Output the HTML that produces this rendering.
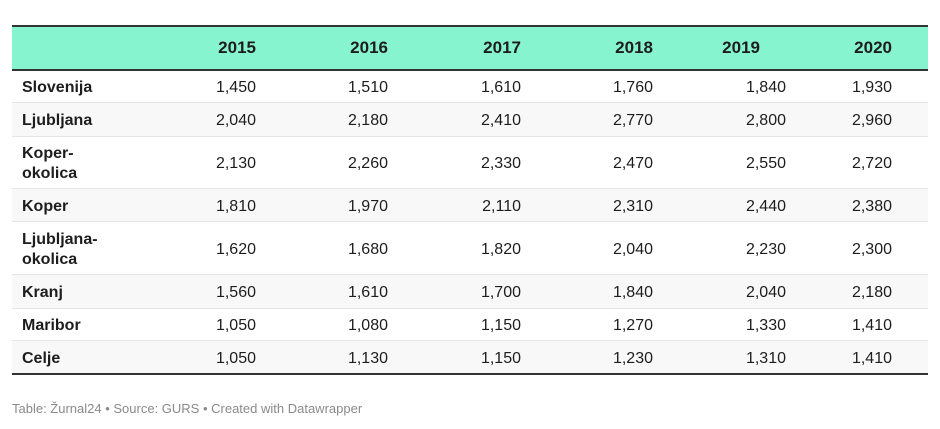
<!DOCTYPE html>
<html><head><meta charset="utf-8"><style>
*{margin:0;padding:0;box-sizing:border-box}
body{width:940px;height:429px;background:#fff;position:relative;font-family:"Liberation Sans",Arial,sans-serif;color:#1d1d1d;overflow:hidden}
.a{position:absolute}
.hd{left:12px;top:25px;width:916px;height:46px;background:#86f4cf;border-top:2px solid #333;border-bottom:2px solid #333}
.row{position:absolute;left:12px;width:916px;border-bottom:1px solid #e6e6e6}
.g{background:#f8f8f8}
.h{position:absolute;top:38px;font-weight:bold;font-size:17px;text-align:right;width:80px}
.n{position:absolute;font-size:16px;text-align:right;width:80px;margin-top:1px}
.l{position:absolute;left:22px;font-weight:bold;font-size:16px;line-height:20px;margin-top:1px}
.ft{left:12px;top:401px;font-size:13px;color:#8a8a8a}
</style></head><body>
<div class="a hd"></div>
<div class="row" style="top:71px;height:32px"></div>
<div class="row g" style="top:103px;height:34px"></div>
<div class="row" style="top:137px;height:52px"></div>
<div class="row g" style="top:189px;height:33px"></div>
<div class="row" style="top:222px;height:53px"></div>
<div class="row g" style="top:275px;height:34px"></div>
<div class="row" style="top:309px;height:32px"></div>
<div class="row g" style="top:341px;height:34px;border-bottom:2px solid #333"></div>
<div class="h" style="left:176px">2015</div>
<div class="h" style="left:308px">2016</div>
<div class="h" style="left:441px">2017</div>
<div class="h" style="left:573px">2018</div>
<div class="h" style="left:680px">2019</div>
<div class="h" style="left:812px">2020</div>
<div class="l" style="top:77px">Slovenija</div>
<div class="l" style="top:110px">Ljubljana</div>
<div class="l" style="top:143px">Koper-<br>okolica</div>
<div class="l" style="top:196px">Koper</div>
<div class="l" style="top:229px">Ljubljana-<br>okolica</div>
<div class="l" style="top:282px">Kranj</div>
<div class="l" style="top:315px">Maribor</div>
<div class="l" style="top:348px">Celje</div>
<div class="a ft">Table: Žurnal24 • Source: GURS • Created with Datawrapper</div>
<div class="n" style="top:78px;left:176px">1,450</div><div class="n" style="top:78px;left:308px">1,510</div><div class="n" style="top:78px;left:441px">1,610</div><div class="n" style="top:78px;left:573px">1,760</div><div class="n" style="top:78px;left:706px">1,840</div><div class="n" style="top:78px;left:812px">1,930</div>
<div class="n" style="top:111px;left:176px">2,040</div><div class="n" style="top:111px;left:308px">2,180</div><div class="n" style="top:111px;left:441px">2,410</div><div class="n" style="top:111px;left:573px">2,770</div><div class="n" style="top:111px;left:706px">2,800</div><div class="n" style="top:111px;left:812px">2,960</div>
<div class="n" style="top:154px;left:176px">2,130</div><div class="n" style="top:154px;left:308px">2,260</div><div class="n" style="top:154px;left:441px">2,330</div><div class="n" style="top:154px;left:573px">2,470</div><div class="n" style="top:154px;left:706px">2,550</div><div class="n" style="top:154px;left:812px">2,720</div>
<div class="n" style="top:197px;left:176px">1,810</div><div class="n" style="top:197px;left:308px">1,970</div><div class="n" style="top:197px;left:441px">2,110</div><div class="n" style="top:197px;left:573px">2,310</div><div class="n" style="top:197px;left:706px">2,440</div><div class="n" style="top:197px;left:812px">2,380</div>
<div class="n" style="top:240px;left:176px">1,620</div><div class="n" style="top:240px;left:308px">1,680</div><div class="n" style="top:240px;left:441px">1,820</div><div class="n" style="top:240px;left:573px">2,040</div><div class="n" style="top:240px;left:706px">2,230</div><div class="n" style="top:240px;left:812px">2,300</div>
<div class="n" style="top:283px;left:176px">1,560</div><div class="n" style="top:283px;left:308px">1,610</div><div class="n" style="top:283px;left:441px">1,700</div><div class="n" style="top:283px;left:573px">1,840</div><div class="n" style="top:283px;left:706px">2,040</div><div class="n" style="top:283px;left:812px">2,180</div>
<div class="n" style="top:316px;left:176px">1,050</div><div class="n" style="top:316px;left:308px">1,080</div><div class="n" style="top:316px;left:441px">1,150</div><div class="n" style="top:316px;left:573px">1,270</div><div class="n" style="top:316px;left:706px">1,330</div><div class="n" style="top:316px;left:812px">1,410</div>
<div class="n" style="top:349px;left:176px">1,050</div><div class="n" style="top:349px;left:308px">1,130</div><div class="n" style="top:349px;left:441px">1,150</div><div class="n" style="top:349px;left:573px">1,230</div><div class="n" style="top:349px;left:706px">1,310</div><div class="n" style="top:349px;left:812px">1,410</div>
</body></html>
